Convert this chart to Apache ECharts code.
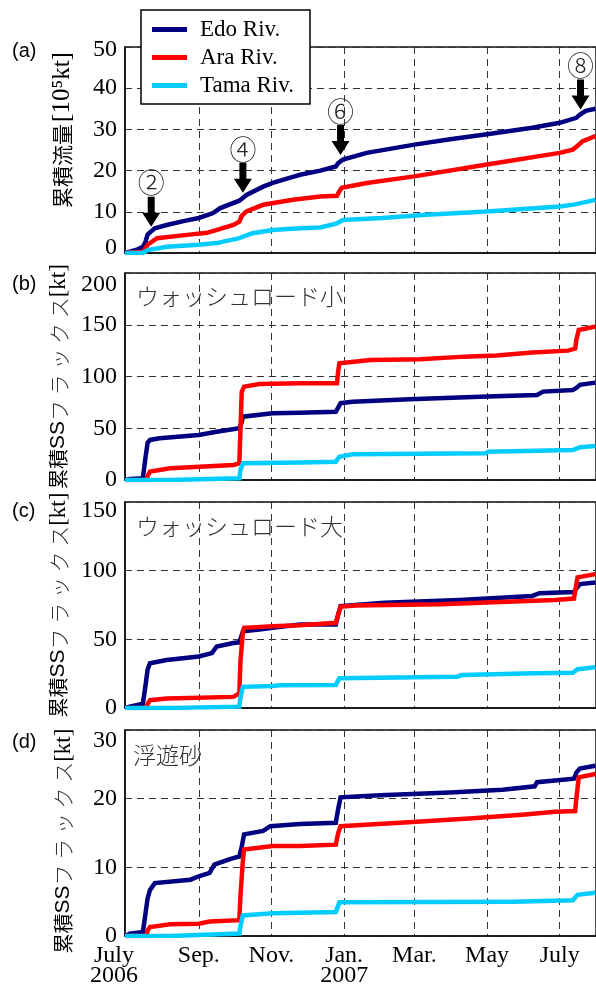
<!DOCTYPE html>
<html><head><meta charset="utf-8">
<script src="https://cdn.jsdelivr.net/npm/echarts@6/dist/echarts.min.js"></script>
<style>html,body{margin:0;padding:0;background:#fff}#c{width:596px;height:989px}</style>
</head><body><div id="c"></div>
<script>
// ---- x axis (days since 2006-07-01) ----
const xTickDays = [0, 62, 123, 184, 243, 304, 365];
const xTickLabels = ['July\n2006', 'Sep.', 'Nov.', 'Jan.\n2007', 'Mar.', 'May', 'July'];
const xMaxDay = 395.5;
const seriesNames = ['Edo Riv.', 'Ara Riv.', 'Tama Riv.'];
const seriesColors = ['#000080', '#ff0000', '#00ccff'];

// ---- (a) 累積流量 [10^5 kt] ----
const flowEdo = [[0,0],[4,0.3],[10,0.8],[15,1.5],[17,2.5],[19,4.5],[21,5.0],[25,6.0],[35,6.8],[50,7.8],[62,8.5],[74,9.7],[80,10.9],[96,12.7],[102,14.1],[116,16.1],[124,17.0],[141,18.5],[147,19.0],[164,20.0],[177,21.0],[179,21.8],[183,22.7],[203,24.3],[243,26.3],[273,27.6],[304,28.8],[342,30.4],[365,31.6],[379,32.8],[382,33.6],[387,34.5],[395,35.0]];
const flowAra = [[0,0],[15,0.3],[17,1.0],[19,2.0],[27,3.6],[52,4.4],[69,4.9],[91,6.8],[96,7.6],[98,9.0],[102,10.1],[116,11.7],[141,12.9],[164,13.7],[178,13.9],[180,15.0],[182,15.8],[203,17.0],[243,18.6],[304,21.5],[365,24.3],[376,25.1],[380,26.0],[384,27.1],[395,28.4]];
const flowTama = [[0,0],[15,0],[19,0.7],[35,1.5],[62,2.0],[77,2.4],[96,3.6],[107,4.8],[124,5.6],[147,6.0],[164,6.2],[178,7.2],[183,8.0],[216,8.5],[253,9.3],[304,10.1],[365,11.3],[378,11.8],[395,12.9]];

// ---- (b) ウォッシュロード小 [kt] ----
const washSEdo = [[0,0],[4,1.0],[15,1.6],[17,20],[19,36],[21,38.7],[29,40.3],[62,43.5],[77,46.7],[96,50],[98,56],[99,61.2],[124,64.5],[147,65],[177,66],[179,70],[181,74.2],[191,75.7],[239,78],[304,80.6],[346,82.2],[351,85.4],[376,87],[379,89],[382,91.9],[395,94.1]];
const washSAra = [[0,0],[18,0],[19,4],[21,8.1],[38,11.3],[91,14.5],[96,16.1],[97,50],[98,85],[100,90.2],[113,92.8],[147,93.5],[178,93.5],[179,105],[180,112.8],[206,116],[248,116.7],[285,119.2],[312,120.2],[342,123.1],[372,125],[378,127],[379,135.4],[381,145],[395,148.2]];
const washSTama = [[0,0],[38,0],[39,1],[96,1.6],[97,10],[99,16.1],[147,16.8],[177,17.7],[180,22.5],[191,24.8],[303,25.8],[305,27.4],[376,29],[382,31.6],[395,32.9]];

// ---- (c) ウォッシュロード大 [kt] ----
const washLEdo = [[0,0],[4,1],[15,3.2],[17,15],[19,28],[21,32.6],[35,35],[62,37.5],[73,40],[77,44.8],[91,47.3],[96,47.8],[99,55.9],[113,57.1],[124,58.4],[147,60.8],[177,60.8],[179,68],[181,74.2],[218,76.7],[281,78.7],[342,81.6],[348,83.6],[377,84.5],[379,87],[382,90.2],[395,91.4]];
const washLAra = [[0,0],[18,0],[19,3],[21,5.7],[35,6.9],[91,8.1],[96,10.6],[97,35],[99,55],[100,58.4],[124,59.5],[147,60.3],[177,62],[179,68],[181,73.8],[193,74.7],[265,75.5],[315,77.2],[361,78.7],[377,79.7],[378,85],[380,95.1],[395,97.5]];
const washLTama = [[0,0],[38,0],[39,0.7],[96,1],[97,8],[99,15.4],[124,16],[130,16.5],[177,16.8],[180,21.6],[279,22.8],[283,24],[344,25.3],[376,25.7],[380,28.2],[395,29.7]];

// ---- (d) 浮遊砂 [kt] ----
const sandEdo = [[0,0],[4,0.35],[15,0.6],[17,3],[19,5.5],[21,6.7],[25,7.7],[55,8.2],[62,8.7],[71,9.2],[75,10.4],[88,11.2],[96,11.6],[98,13],[100,14.8],[116,15.3],[122,16],[147,16.3],[177,16.5],[179,18.5],[181,20.2],[214,20.5],[273,20.9],[317,21.3],[344,21.8],[346,22.4],[377,22.9],[379,23.8],[382,24.4],[395,24.8]];
const sandAra = [[0,0],[18,0],[19,0.8],[21,1.3],[38,1.7],[62,1.8],[71,2.1],[96,2.3],[97,6],[99,11],[100,12.6],[124,13.1],[147,13.1],[177,13.3],[179,15],[181,16],[231,16.5],[289,17.1],[336,17.7],[361,18.1],[378,18.2],[379,20],[381,23.1],[395,23.6]];
const sandTama = [[0,0],[38,0],[39,0.2],[96,0.35],[97,1.5],[99,3.0],[124,3.3],[147,3.4],[177,3.5],[180,4.9],[327,5.0],[376,5.2],[380,6.0],[395,6.3]];

// ---- annotations in (a): flood events ----
const annLabels = ['②', '④', '⑥', '⑧'];
const annDays = [22, 99, 181, 382.5];
const annValues = [6.4, 14.6, 23.8, 34.8];

// ---- panels ----
const panelTags = ['(a)', '(b)', '(c)', '(d)'];
const panelInner = ['', 'ウォッシュロード小', 'ウォッシュロード大', '浮遊砂'];
const yMax = [50, 200, 150, 30];
const yStep = [10, 50, 50, 10];
const panelData = [
  [flowEdo, flowAra, flowTama],
  [washSEdo, washSAra, washSTama],
  [washLEdo, washLAra, washLTama],
  [sandEdo, sandAra, sandTama]
];

// layout
const gridTops = [47, 273, 502, 730];
const gridHeights = [206, 207, 206, 206];
const topLabelShift = [3, 12, 9, 11];
const zeroLabelShift = [-5, 0, 0, 0];
const nameShift = [20, 0, 0, -8]; // positive = move name up
const tagTops = [41, 274, 501, 732];
const innerTops = [0, 285, 515, 744];
const innerLefts = [0, 136, 136, 133];

const SERIF = 'Liberation Serif, Times New Roman, serif';
const CJK = 'Noto Sans CJK JP';

const grids = gridTops.map((t, i) => ({
  left: 125, right: 0, top: t, height: gridHeights[i],
  show: true, borderColor: '#111', borderWidth: 1.5, backgroundColor: 'transparent'
}));

const xAxes = gridTops.map((t, i) => ({
  type: 'value', gridIndex: i, min: 0, max: xMaxDay,
  axisLine: { show: true, lineStyle: { color: '#111', width: 1.5 } },
  axisTick: { show: false, customValues: xTickDays },
  splitLine: { show: true, lineStyle: { color: '#333', width: 1, type: [7, 5] } },
  axisLabel: {
    show: i === 3, customValues: xTickDays,
    fontFamily: SERIF, fontSize: 24, color: '#000', margin: 10, lineHeight: 20,
    formatter: v => {
      const k = xTickDays.indexOf(v);
      if (k === 0) return '{f|July}\n{f|2006}';
      return k >= 0 ? xTickLabels[k] : '';
    },
    rich: { f: { fontFamily: SERIF, fontSize: 24, color: '#000', lineHeight: 20, padding: [0, 22, 0, 0] } }
  }
}));

function yName(i) {
  const s = nameShift[i];
  const padL = s > 0 ? 2 * s : 0;
  const padR = s < 0 ? -2 * s : 0;
  if (i === 0) {
    return {
      name: '{c|累積流量}{l|[10⁵kt]}',
      rich: {
        c: { fontFamily: CJK, fontSize: 21, color: '#000', padding: [0, 2, 0, padL] },
        l: { fontFamily: SERIF, fontSize: 25, color: '#000', padding: [0, padR, 0, 0] }
      }
    };
  }
  return {
    name: '{c|累積}{s|SS}{k|フ ラ ッ ク ス}{l|[kt]}',
    rich: {
      c: { fontFamily: CJK, fontSize: 20, color: '#000', padding: [0, 0, 0, padL] },
      s: { fontFamily: 'Liberation Sans', fontSize: 21, color: '#000' },
      k: { fontFamily: CJK, fontSize: 21, fontWeight: 300, color: '#333' },
      l: { fontFamily: SERIF, fontSize: 23, color: '#000', padding: [0, padR, 0, 0] }
    }
  };
}

const yAxes = gridTops.map((t, i) => {
  const nm = yName(i);
  return {
    type: 'value', gridIndex: i, min: 0, max: yMax[i], interval: yStep[i],
    name: nm.name, nameLocation: 'middle', nameGap: 50, nameRotate: 90,
    nameTextStyle: { rich: nm.rich },
    axisLine: { show: true, lineStyle: { color: '#111', width: 1.5 } },
    axisTick: { show: false },
    splitLine: { show: true, lineStyle: { color: '#333', width: 1, type: [7, 5] } },
    axisLabel: {
      fontFamily: SERIF, fontSize: 24, color: '#000', margin: 8,
      formatter: v => v === yMax[i] ? '{t|' + v + '}' : (v === 0 ? '{z|0}' : String(v)),
      rich: {
        t: { fontFamily: SERIF, fontSize: 24, color: '#000',
             padding: [Math.max(0, 2 * topLabelShift[i]), 0, 0, 0] },
        z: { fontFamily: SERIF, fontSize: 24, color: '#000',
             padding: zeroLabelShift[i] < 0 ? [0, 0, -2 * zeroLabelShift[i], 0] : [0, 0, 0, 0] }
      }
    }
  };
});

const drawOrder = [2, 0, 1]; // Tama under, Ara on top
const series = [];
panelData.forEach((sets, p) => {
  drawOrder.forEach(k => {
    const s = {
      type: 'line', name: seriesNames[k], xAxisIndex: p, yAxisIndex: p,
      data: sets[k], showSymbol: false, symbol: 'none', smooth: false,
      lineStyle: { color: seriesColors[k], width: 4.5, join: 'miter' },
      itemStyle: { color: seriesColors[k] },
      z: 3 + k, animation: false
    };
    if (p === 0 && k === 0) {
      s.markPoint = {
        symbol: 'path://M5.5,0L12.5,0L12.5,16L18,16L9,30L0,16L5.5,16Z',
        symbolSize: [18, 30], symbolOffset: [0, '-50%'], symbolKeepAspect: false,
        itemStyle: { color: '#000' },
        label: { show: true, position: 'top', distance: 0, formatter: '{b}',
                 fontFamily: CJK, fontSize: 27, fontWeight: 300, color: '#222' },
        data: annLabels.map((l, j) => ({ name: l, coord: [annDays[j], annValues[j]] })),
        z: 10, animation: false
      };
    }
    series.push(s);
  });
});

const titles = [];
panelTags.forEach((t, i) => {
  titles.push({ text: t, left: 12, top: tagTops[i], padding: 0,
    textStyle: { fontFamily: 'Liberation Sans', fontSize: 20, fontWeight: 'normal', color: '#000' } });
  if (panelInner[i]) {
    titles.push({ text: panelInner[i], left: innerLefts[i], top: innerTops[i], padding: 0,
      textStyle: { fontFamily: CJK, fontSize: 23, fontWeight: 300, color: '#333' } });
  }
});

const chart = echarts.init(document.getElementById('c'), null, { renderer: 'canvas' });
chart.setOption({
  animation: false,
  backgroundColor: '#fff',
  title: titles,
  legend: {
    data: seriesNames, orient: 'vertical', left: 141, top: 10,
    icon: 'rect', itemWidth: 35, itemHeight: 5, itemGap: 5,
    padding: [8, 16, 7, 11],
    borderColor: '#000', borderWidth: 1.5, backgroundColor: '#fff',
    textStyle: { fontFamily: SERIF, fontSize: 23, color: '#000', padding: [0, 0, 0, 8] },
    selectedMode: false, z: 20
  },
  grid: grids,
  xAxis: xAxes,
  yAxis: yAxes,
  series: series
});
</script>
</body></html>
